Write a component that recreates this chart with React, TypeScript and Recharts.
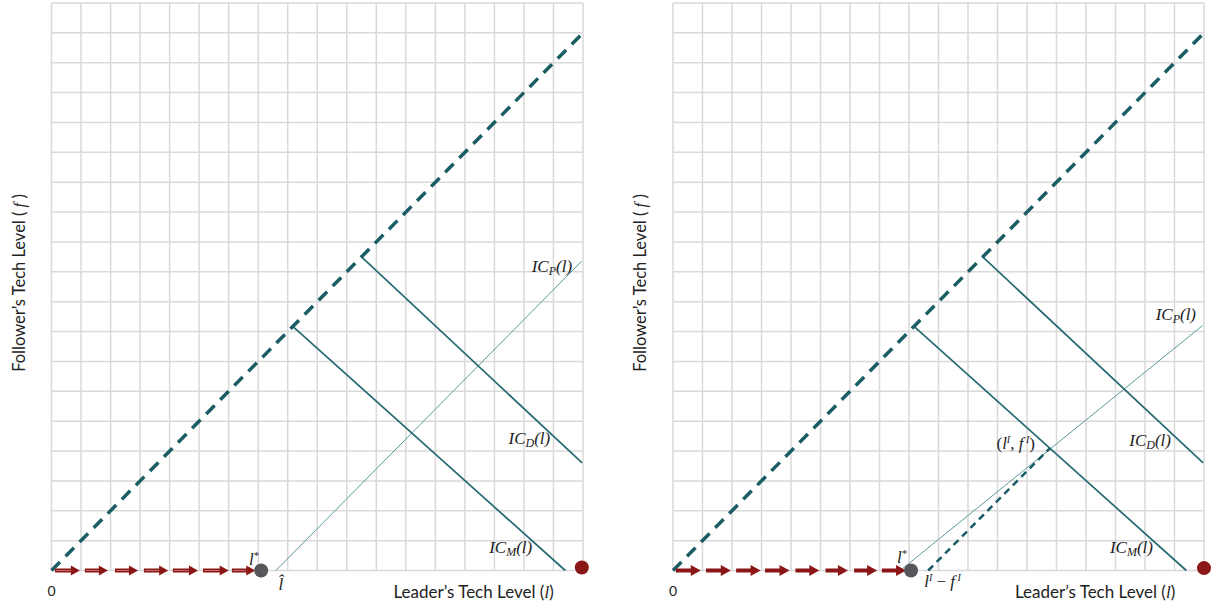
import React from 'react';
import {
  ComposedChart,
  XAxis,
  YAxis,
  CartesianGrid,
  Line,
  Scatter,
  ReferenceLine,
} from 'recharts';

// ---- axis ticks (grid) ----
const xTicks = [0, 1, 2, 3, 4, 5, 6, 7, 8, 9, 10, 11, 12, 13, 14, 15, 16, 17, 18];
const yTicks = [0, 1, 2, 3, 4, 5, 6, 7, 8, 9, 10, 11, 12, 13, 14, 15, 16, 17, 18, 19];

// ---- curves (leader level x, follower level y) ----
const diagonal = [
  { x: 0, y: 0 },
  { x: 18, y: 18 },
];
const icM = [
  { x: 8.17, y: 8.17 },
  { x: 17.4, y: 0 },
];
const icD = [
  { x: 10.5, y: 10.5 },
  { x: 17.97, y: 3.6 },
];
const icPLeft = [
  { x: 7.6, y: 0 },
  { x: 17.95, y: 10.35 },
];
const icPRight = [
  { x: 7.7, y: 0 },
  { x: 17.95, y: 8.2 },
];
const gapLine = [
  { x: 8.65, y: 0 },
  { x: 12.78, y: 4.1 },
];

// ---- catch-up steps along the leader axis ----
const stepStartsLeft = [0.12, 1.13, 2.15, 3.13, 4.11, 5.13, 6.11];
const stepEndsLeft = [0.96, 1.91, 2.93, 3.95, 4.96, 6.0, 6.9];
const stepStartsRight = [0.1, 1.12, 2.14, 3.12, 4.15, 5.17, 6.14, 7.08];
const stepEndsRight = [0.94, 1.96, 2.97, 3.95, 4.96, 5.93, 6.92, 7.9];

// ---- key points ----
const lStarLeft = [{ x: 7.1, y: 0 }];
const lStarRight = [{ x: 8.07, y: 0 }];
const frontierLeft = [{ x: 17.96, y: 0.1 }];
const frontierRight = [{ x: 18, y: 0.08 }];

// ---- annotation anchors ----
const labelsLeft = [
  { x: 17.63, y: 9.99, id: 'icp' },
  { x: 16.89, y: 4.23, id: 'icd' },
  { x: 16.28, y: 0.59, id: 'icm' },
  { x: 7.1, y: 0, id: 'lstar', dx: -7, dy: -6 },
  { x: 7.6, y: 0, id: 'lhat', dx: 5, dy: 19 },
  { x: 0, y: 0, id: 'zero', dy: 25 },
];
const labelsRight = [
  { x: 17.73, y: 8.39, id: 'icp' },
  { x: 16.88, y: 4.17, id: 'icd' },
  { x: 12.27, y: 4.07, id: 'lifi' },
  { x: 16.27, y: 0.59, id: 'icm' },
  { x: 8.07, y: 0, id: 'lstar', dx: -9, dy: -8 },
  { x: 8.65, y: 0, id: 'gap', dx: -4, dy: 16 },
  { x: 0, y: 0, id: 'zero', dy: 25 },
];

const TEAL_DARK = '#1b5d64';
const TEAL = '#266a70';
const TEAL_LIGHT = '#5d979c';
const RED = '#8b1616';
const GREY = '#55575a';
const MATH_FONT = '"Liberation Serif", "DejaVu Serif", serif';
const TEXT_FONT = 'Lato, "Open Sans", sans-serif';

const mathText = (id: string) => {
  const base = { fontStyle: 'italic' as const };
  switch (id) {
    case 'icp':
    case 'icd':
    case 'icm': {
      const sub = id === 'icp' ? 'P' : id === 'icd' ? 'D' : 'M';
      return (
        <>
          <tspan {...base}>IC</tspan>
          <tspan {...base} fontSize={12} dy={3}>{sub}</tspan>
          <tspan {...base} dy={-3}>(l)</tspan>
        </>
      );
    }
    case 'lstar':
      return (
        <>
          <tspan {...base}>l</tspan>
          <tspan fontSize={11} dy={-6}>*</tspan>
        </>
      );
    case 'lhat':
      return <tspan {...base}>{'l\u0302'}</tspan>;
    case 'lifi':
      return (
        <>
          <tspan>(</tspan>
          <tspan {...base}>l</tspan>
          <tspan {...base} fontSize={10} dy={-6}>I</tspan>
          <tspan dy={6}>, </tspan>
          <tspan {...base}>f</tspan>
          <tspan {...base} fontSize={10} dy={-6}> I</tspan>
          <tspan dy={6}>)</tspan>
        </>
      );
    case 'gap':
      return (
        <>
          <tspan {...base}>l</tspan>
          <tspan {...base} fontSize={10} dy={-6}>I</tspan>
          <tspan dy={6}> − </tspan>
          <tspan {...base}>f</tspan>
          <tspan {...base} fontSize={10} dy={-6}> I</tspan>
        </>
      );
    default:
      return null;
  }
};

const LabelShape = (props: any) => {
  const { cx, cy, payload } = props;
  const id: string = payload.id;
  const dx = payload.dx ?? 0;
  const dy = payload.dy ?? 0;
  if (id === 'zero') {
    return (
      <text x={cx + dx} y={cy + dy} textAnchor="middle" fontFamily={TEXT_FONT} fontSize={14} fill="#222">
        0
      </text>
    );
  }
  const anchor = id === 'gap' ? 'start' : id === 'lstar' || id === 'lhat' ? 'middle' : 'end';
  return (
    <text x={cx + dx} y={cy + dy} textAnchor={anchor} fontFamily={MATH_FONT} fontSize={17} fill="#222">
      {mathText(id)}
    </text>
  );
};

const dotShape = (color: string) => (props: any) => {
  const { cx, cy } = props;
  return <circle cx={cx} cy={cy} r={7} fill={color} />;
};

const arrowShape = (hollow: boolean) => (props: any) => {
  const { x1, y1, x2 } = props;
  const head = hollow ? 9 : 10;
  const half = hollow ? 5 : 5.5;
  const shaftEnd = x2 - head + 1;
  return (
    <g>
      <rect x={x1} y={y1 - 2} width={Math.max(0, shaftEnd - x1)} height={4} fill={RED} />
      {hollow && (
        <line x1={x1 + 1} y1={y1} x2={shaftEnd} y2={y1} stroke="#c46a6a" strokeWidth={1} />
      )}
      <polygon points={`${x2},${y1} ${x2 - head},${y1 - half} ${x2 - head},${y1 + half}`} fill={RED} />
    </g>
  );
};

// grid lines placed at every unit through the axis scales
const verticalGrid = (args: any) => {
  const { xAxis, offset } = args;
  if (xAxis && typeof xAxis.scale === 'function') return xTicks.map((t) => xAxis.scale(t));
  return xTicks.map((t) => offset.left + (t / 18) * offset.width);
};
const horizontalGrid = (args: any) => {
  const { yAxis, offset } = args;
  if (yAxis && typeof yAxis.scale === 'function') return yTicks.map((t) => yAxis.scale(t));
  return yTicks.map((t) => offset.top + offset.height - (t / 19) * offset.height);
};

type PanelProps = {
  left: number;
  marginLeft: number;
  marginRight: number;
  icP: { x: number; y: number }[];
  starts: number[];
  ends: number[];
  lStar: { x: number; y: number }[];
  frontier: { x: number; y: number }[];
  labels: any[];
  hollowArrows: boolean;
  showGap: boolean;
};

const Panel = (p: PanelProps) => (
  <div style={{ position: 'absolute', left: p.left, top: 0 }}>
    <ComposedChart
      width={600}
      height={609}
      margin={{ top: 3, right: p.marginRight, bottom: 38.5, left: p.marginLeft }}
    >
      <CartesianGrid
        stroke="#d9d9d9"
        strokeWidth={1.5}
        verticalCoordinatesGenerator={verticalGrid}
        horizontalCoordinatesGenerator={horizontalGrid}
      />
      <XAxis
        type="number"
        dataKey="x"
        domain={[0, 18]}
        ticks={xTicks}
        tick={false}
        tickLine={false}
        axisLine={false}
        height={0}
      />
      <YAxis
        type="number"
        dataKey="y"
        domain={[0, 19]}
        ticks={yTicks}
        tick={false}
        tickLine={false}
        axisLine={false}
        width={0}
      />
      <Line
        data={p.icP}
        dataKey="y"
        stroke={TEAL_LIGHT}
        strokeWidth={1}
        dot={false}
        isAnimationActive={false}
      />
      {p.showGap && (
        <Line
          data={gapLine}
          dataKey="y"
          stroke={TEAL_DARK}
          strokeWidth={2.5}
          strokeDasharray="7 5"
          dot={false}
          isAnimationActive={false}
        />
      )}
      <Line data={icM} dataKey="y" stroke={TEAL} strokeWidth={1.7} dot={false} isAnimationActive={false} />
      <Line data={icD} dataKey="y" stroke={TEAL} strokeWidth={1.7} dot={false} isAnimationActive={false} />
      <Line
        data={diagonal}
        dataKey="y"
        stroke={TEAL_DARK}
        strokeWidth={3.5}
        strokeDasharray="12 8"
        dot={false}
        isAnimationActive={false}
      />
      {p.starts.map((s, i) => (
        <ReferenceLine
          key={i}
          segment={[
            { x: s, y: 0 },
            { x: p.ends[i], y: 0 },
          ]}
          shape={arrowShape(p.hollowArrows)}
        />
      ))}
      <Scatter data={p.lStar} shape={dotShape(GREY)} isAnimationActive={false} />
      <Scatter data={p.frontier} shape={dotShape(RED)} isAnimationActive={false} />
      <Scatter data={p.labels} shape={LabelShape} isAnimationActive={false} />
      <text
        x={p.marginLeft + 342}
        y={598}
        fontFamily={TEXT_FONT}
        fontSize={17}
        fill="#222"
      >
        Leader’s Tech Level (<tspan fontFamily={MATH_FONT} fontStyle="italic">l</tspan>)
      </text>
      <text
        transform={`translate(${p.marginLeft - 27}, 283) rotate(-90)`}
        textAnchor="middle"
        fontFamily={TEXT_FONT}
        fontSize={16.5}
        fill="#222"
      >
        Follower’s Tech Level ( <tspan fontFamily={MATH_FONT} fontStyle="italic">f</tspan> )
      </text>
    </ComposedChart>
  </div>
);

export default function App() {
  return (
    <div style={{ position: 'absolute', left: 0, top: 0, width: 1215, height: 609, background: '#fff' }}>
      <Panel
        left={0}
        marginLeft={51.5}
        marginRight={17}
        icP={icPLeft}
        starts={stepStartsLeft}
        ends={stepEndsLeft}
        lStar={lStarLeft}
        frontier={frontierLeft}
        labels={labelsLeft}
        hollowArrows={true}
        showGap={false}
      />
      <Panel
        left={622}
        marginLeft={51}
        marginRight={18}
        icP={icPRight}
        starts={stepStartsRight}
        ends={stepEndsRight}
        lStar={lStarRight}
        frontier={frontierRight}
        labels={labelsRight}
        hollowArrows={false}
        showGap={true}
      />
    </div>
  );
}
